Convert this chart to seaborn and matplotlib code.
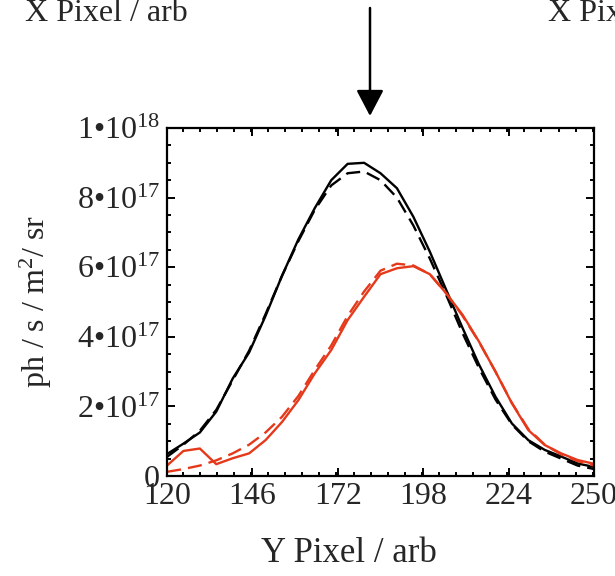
import matplotlib
matplotlib.use("Agg")
import matplotlib.pyplot as plt
from matplotlib.ticker import MultipleLocator
import seaborn as sns
import pandas as pd

# ---- data ----
y_pixel = [120, 125, 130, 135, 140, 145, 150, 155, 160, 165, 170, 175, 180, 185,
           190, 195, 200, 205, 210, 215, 220, 225, 230, 235, 240, 245, 250]

black_solid = [0.063, 0.093, 0.125, 0.185, 0.28, 0.355, 0.46, 0.575, 0.68, 0.77,
               0.85, 0.897, 0.90, 0.87, 0.827, 0.745, 0.645, 0.535, 0.425, 0.32,
               0.228, 0.151, 0.103, 0.075, 0.056, 0.036, 0.026]
black_dashed = [0.055, 0.09, 0.13, 0.19, 0.275, 0.36, 0.465, 0.575, 0.675, 0.765,
                0.835, 0.87, 0.875, 0.85, 0.80, 0.72, 0.625, 0.52, 0.41, 0.31,
                0.22, 0.148, 0.10, 0.07, 0.05, 0.03, 0.02]
red_solid = [0.03, 0.072, 0.079, 0.034, 0.051, 0.065, 0.103, 0.155, 0.218, 0.295,
             0.362, 0.448, 0.515, 0.58, 0.597, 0.603, 0.58, 0.525, 0.463, 0.386,
             0.30, 0.209, 0.132, 0.089, 0.065, 0.046, 0.035]
red_dashed = [0.012, 0.02, 0.03, 0.045, 0.065, 0.09, 0.125, 0.17, 0.23, 0.305,
              0.375, 0.46, 0.53, 0.59, 0.61, 0.605, 0.58, 0.525, 0.46, 0.385,
              0.30, 0.21, 0.135, 0.09, 0.062, 0.043, 0.03]
scale = 1e18

x_ticks = [120, 146, 172, 198, 224, 250]
y_ticks = [0, 2e17, 4e17, 6e17, 8e17, 1e18]
y_tick_labels = ["0", "2•10$^{17}$", "4•10$^{17}$", "6•10$^{17}$",
                 "8•10$^{17}$", "1•10$^{18}$"]

x_label = "Y Pixel / arb"
y_label = "ph / s / m$^2$/ sr"
top_left_text = "X Pixel / arb"
top_right_text = "X Pixel / arb"

# ---- style ----
sns.set_style("ticks")
plt.rcParams["font.family"] = ["Liberation Serif", "DejaVu Serif"]
plt.rcParams["mathtext.fontset"] = "custom"
plt.rcParams["mathtext.rm"] = "Liberation Serif"
plt.rcParams["mathtext.it"] = "Liberation Serif:italic"
plt.rcParams["mathtext.bf"] = "Liberation Serif:bold"

RED = "#e5391b"
FS = 23

fig = plt.figure(figsize=(6.15, 5.76), dpi=100)
ax = fig.add_axes([167 / 615, 1 - 476 / 576, (594 - 167) / 615, (476 - 128) / 576])

def frame(vals):
    return pd.DataFrame({"x": y_pixel, "y": [v * scale for v in vals]})

sns.lineplot(data=frame(black_solid), x="x", y="y", ax=ax, color="black", lw=1.7)
sns.lineplot(data=frame(black_dashed), x="x", y="y", ax=ax, color="black", lw=1.7,
             linestyle=(0, (6, 3)))
sns.lineplot(data=frame(red_solid), x="x", y="y", ax=ax, color=RED, lw=1.7)
sns.lineplot(data=frame(red_dashed), x="x", y="y", ax=ax, color=RED, lw=1.7,
             linestyle=(0, (6, 3)))

ax.set_xlim(120, 250)
ax.set_ylim(0, 1e18)
ax.set_xticks(x_ticks)
ax.set_xticklabels([str(t) for t in x_ticks])
ax.set_yticks(y_ticks)
ax.set_yticklabels(y_tick_labels)
ax.xaxis.set_minor_locator(MultipleLocator(5.2))
ax.yaxis.set_minor_locator(MultipleLocator(5e16))

ax.tick_params(which="both", direction="in", top=True, right=True, width=1.4,
               color="black")
ax.tick_params(which="major", length=6)
ax.tick_params(which="minor", length=3)
ax.tick_params(axis="x", which="major", labelsize=FS, pad=4)
ax.tick_params(axis="y", which="major", labelsize=FS, pad=5)
for s in ax.spines.values():
    s.set_linewidth(1.6)
    s.set_color("black")

ax.set_xlabel(x_label, fontsize=25)
ax.set_ylabel(y_label, fontsize=FS)
ax.xaxis.set_label_coords(0.426, -0.175)
ax.yaxis.set_label_coords(-0.265, 0.5)

fig.text(106 / 615, 1 - 21 / 576, top_left_text, fontsize=FS, ha="center",
         va="baseline")
fig.text(548 / 615, 1 - 21 / 576, top_right_text, fontsize=FS, ha="left",
         va="baseline")
ax.annotate("", xy=(370, 576 - 116), xycoords="figure pixels",
            xytext=(370, 576 - 8), textcoords="figure pixels",
            arrowprops=dict(arrowstyle="-|>,head_length=0.8,head_width=0.42",
                            mutation_scale=20, color="black", lw=1.8,
                            shrinkA=0, shrinkB=0),
            annotation_clip=False)

fig.savefig("out.png", dpi=100)
